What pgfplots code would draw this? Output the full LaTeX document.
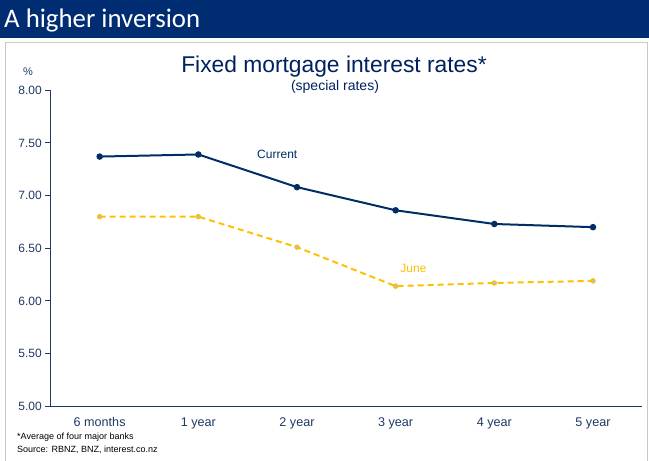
\documentclass[border=0pt]{standalone}
\usepackage{pgfplots}
\pgfplotsset{compat=1.18}
\usepackage{fontspec}
\setmainfont{Liberation Sans}
\newfontfamily\calibri{Carlito}
\definecolor{hdr}{RGB}{0,45,114}
\definecolor{navy}{RGB}{0,45,100}
\definecolor{tickc}{RGB}{31,56,100}
\definecolor{gold}{RGB}{255,192,0}
\definecolor{boxgray}{RGB}{200,200,200}
\definecolor{ttl}{RGB}{0,32,96}
\begin{document}
\begin{tikzpicture}[x=1bp,y=1bp]
\path[use as bounding box] (0,0) rectangle (649,461);
\fill[hdr] (0,423) rectangle (649,461);
\node[anchor=west,text=white,font=\calibri\fontsize{26.8bp}{30bp}\selectfont,inner sep=0pt] at (4,440.5) {A higher inversion};
\draw[boxgray,line width=1.5bp] (5.5,-2) -- (5.5,418.5) -- (647.5,418.5) -- (647.5,-2);
\node[text=ttl,font=\fontsize{22.8bp}{26bp}\selectfont,inner sep=0pt] at (334,394) {Fixed mortgage interest rates*};
\node[text=ttl,font=\fontsize{14bp}{16bp}\selectfont,inner sep=0pt] at (335,374) {(special rates)};
\node[text=tickc,font=\fontsize{11bp}{13bp}\selectfont,inner sep=0pt] at (28,389) {\%};
\node[anchor=west,text=black,font=\fontsize{9bp}{11bp}\selectfont,inner sep=0pt] at (17,24) {*Average of four major banks};
\node[anchor=west,text=black,font=\fontsize{9bp}{11bp}\selectfont,inner sep=0pt] at (17,11) {Source: RBNZ, BNZ, interest.co.nz};
\begin{axis}[
  at={(51,52)}, anchor=south west,
  width=592bp, height=316bp, scale only axis,
  xmin=-0.5, xmax=5.5, ymin=5, ymax=8,
  axis lines*=left,
  axis line style={tickc, line width=1.2bp},
  every tick/.style={tickc, line width=1bp},
  xtick={0,1,2,3,4,5},
  xticklabels={6 months,1 year,2 year,3 year,4 year,5 year},
  major x tick style={draw=none},
  extra x ticks={0.5,1.5,2.5,3.5,4.5,5.5},
  extra x tick labels={},
  extra x tick style={major tick length=5bp, tick align=outside, major x tick style={tickc,line width=1bp}},
  ytick={5,5.5,6,6.5,7,7.5,8},
  tick align=outside,
  major tick length=5bp,
  yticklabel style={/pgf/number format/.cd,fixed,fixed zerofill,precision=2,/tikz/.cd},
  /pgf/number format/assume math mode=true,
  ticklabel style={text=tickc, font=\fontsize{12bp}{14bp}\selectfont},
  xticklabel style={yshift=-3bp, font=\fontsize{12.6bp}{14bp}\selectfont},
  clip=false,
]
\addplot[navy, line width=2bp, mark=*, mark size=2.2bp, mark options={fill=navy,draw=navy}] coordinates {
(0,7.37) (1,7.39) (2,7.08) (3,6.86) (4,6.73) (5,6.70)};
\addplot[gold, line width=2bp, dash pattern=on 6bp off 4bp, mark=*, mark size=2.2bp, mark options={solid,fill={rgb,255:red,190;green,190;blue,190},draw=gold,line width=1bp}] coordinates {
(0,6.80) (1,6.80) (2,6.51) (3,6.14) (4,6.17) (5,6.19)};
\node[text=navy,font=\fontsize{12bp}{14bp}\selectfont] at (axis cs:1.8,7.39) {Current};
\node[text=gold,font=\fontsize{12bp}{14bp}\selectfont] at (axis cs:3.18,6.31) {June};
\end{axis}
\end{tikzpicture}
\end{document}
